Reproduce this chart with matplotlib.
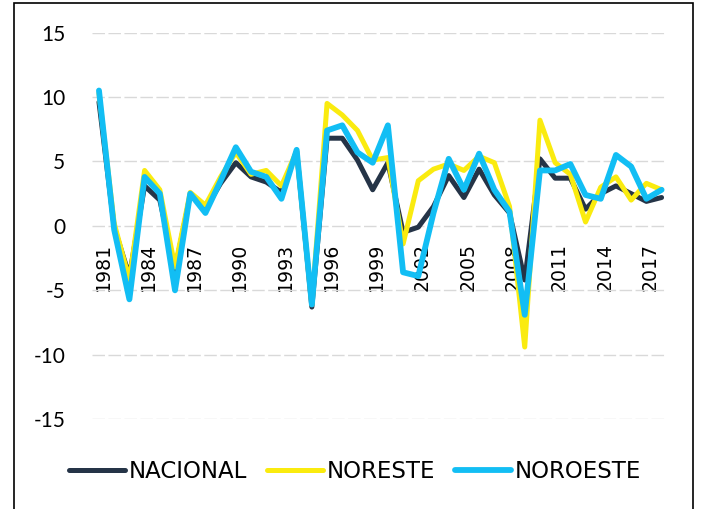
import matplotlib
matplotlib.use("Agg")
import matplotlib.pyplot as plt
import matplotlib.transforms as mtransforms
from matplotlib.patches import Rectangle

years = list(range(1981, 2019))
tick_years = list(range(1981, 2019, 3))
y_ticks = [-15, -10, -5, 0, 5, 10, 15]

nacional = [9.6, -0.1, -3.9, 3.1, 2.0, -3.4, 2.4, 1.3, 3.3, 4.9,
            3.8, 3.4, 2.6, 5.8, -6.3, 6.8, 6.8, 5.1, 2.8, 4.9,
            -0.5, -0.1, 1.5, 3.9, 2.2, 4.4, 2.4, 1.0, -4.2, 5.2,
            3.7, 3.7, 1.3, 2.5, 3.1, 2.5, 1.9, 2.2]
noreste = [10.3, 0.2, -4.2, 4.3, 2.8, -3.2, 2.6, 1.6, 3.8, 5.7,
           4.0, 4.3, 3.1, 5.8, -6.1, 9.5, 8.6, 7.4, 5.1, 5.3,
           -1.4, 3.5, 4.4, 4.8, 4.3, 5.4, 4.9, 1.5, -9.4, 8.2,
           4.9, 4.0, 0.3, 3.0, 3.8, 2.0, 3.3, 2.8]
noroeste = [10.5, -0.3, -5.7, 3.8, 2.5, -5.0, 2.5, 1.0, 3.5, 6.1,
            4.2, 3.8, 2.1, 5.9, -6.1, 7.4, 7.8, 5.7, 4.9, 7.8,
            -3.6, -3.9, 1.0, 5.2, 2.8, 5.6, 2.8, 1.1, -6.9, 4.3,
            4.3, 4.8, 2.4, 2.1, 5.5, 4.6, 2.1, 2.8]

series = [("NACIONAL", nacional, "#253447", 3.6),
          ("NORESTE", noreste, "#FAEB0F", 3.6),
          ("NOROESTE", noroeste, "#12BEF4", 4.2)]

fig = plt.figure(figsize=(7.02, 5.09), dpi=100)
ax = fig.add_axes([0.1306, 0.1764, 0.8194, 0.7597])

for name, vals, color, lw in series:
    ax.plot(years, vals, color=color, lw=lw, label=name,
            solid_joinstyle="round", solid_capstyle="round")

ax.set_xlim(1981 - 0.48, 2018 + 0.35)
ax.set_ylim(-15, 15)
ax.set_yticks(y_ticks)
ax.set_yticklabels([str(v) for v in y_ticks], family="Lato", fontsize=15)
ax.grid(axis="y", color="#D9D9D9", lw=1.0, linestyle=(0, (9, 2.5)))
ax.set_axisbelow(True)

for s in ["top", "right", "left"]:
    ax.spines[s].set_visible(False)
ax.spines["bottom"].set_position(("data", 0))
ax.spines["bottom"].set_visible(False)

ax.set_xticks(tick_years)
ax.set_xticklabels([str(y) for y in tick_years], rotation=90,
                   fontsize=13.6, va="top", ha="center")
ax.tick_params(axis="x", length=0, pad=12)
ax.tick_params(axis="y", length=0, pad=19)

offset = mtransforms.ScaledTranslation(4 / 100, 0, fig.dpi_scale_trans)
for lab in ax.get_xticklabels():
    lab.set_transform(lab.get_transform() + offset)

fig.legend(loc="center", bbox_to_anchor=(0.506, 0.073), ncol=3,
           frameon=False, fontsize=16.5, handlelength=2.45,
           handletextpad=0.17, columnspacing=0.86)

fig.patches.append(Rectangle((14 / 702, -0.01), (693 - 14) / 702,
                             1.01 - 3.3 / 509, transform=fig.transFigure,
                             fill=False, edgecolor="black", lw=1.2))

fig.savefig("out.png", dpi=100)
